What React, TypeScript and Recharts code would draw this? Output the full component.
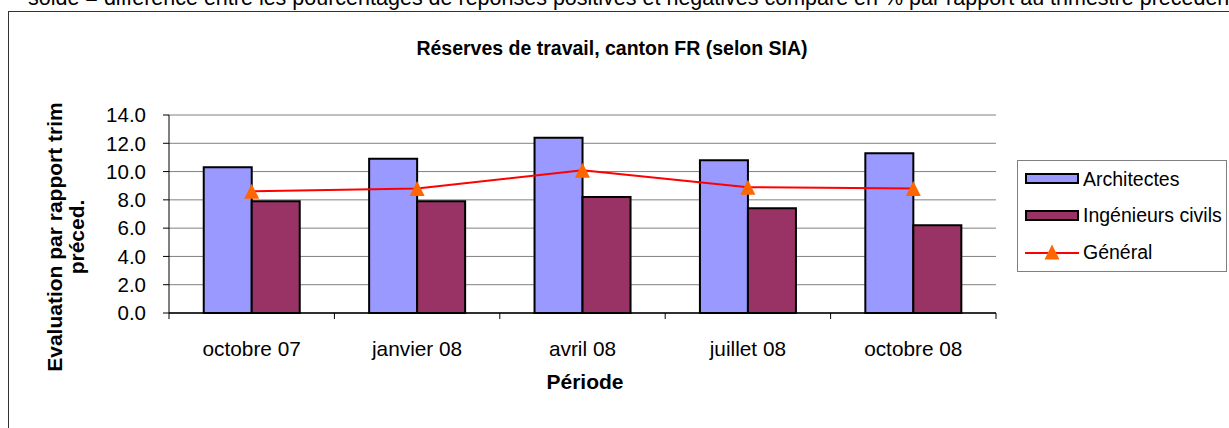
import React from 'react';
import { ComposedChart, Bar, Line, XAxis, YAxis, CartesianGrid } from 'recharts';

const categories = ['octobre 07', 'janvier 08', 'avril 08', 'juillet 08', 'octobre 08'];
const architectes = [10.3, 10.9, 12.4, 10.8, 11.3];
const ingenieurs = [7.9, 7.9, 8.2, 7.4, 6.2];
const general = [8.6, 8.8, 10.1, 8.9, 8.8];
const yTicks = [0, 2, 4, 6, 8, 10, 12, 14];

const seriesNames = { architectes: 'Architectes', ingenieurs: 'Ingénieurs civils', general: 'Général' };
const title = 'Réserves de travail, canton FR (selon SIA)';
const topNote = 'solde = différence entre les pourcentages de réponses positives et négatives comparé en % par rapport au trimestre précédent';
const yLabelLines = ['Evaluation par rapport trim', 'préced.'];
const xLabel = 'Période';

const data = categories.map((c, i) => ({
  periode: c,
  architectes: architectes[i],
  ingenieurs: ingenieurs[i],
  general: general[i],
}));

const FONT = '"Liberation Sans", Arial, Helvetica, sans-serif';
const COL_ARCH = '#9999FF';
const COL_ING = '#993366';
const COL_LINE = '#FF0000';
const COL_MARK = '#FF6600';

const W = 1229;
const H = 428;
const MARGIN = { top: 115, right: 233, bottom: 69, left: 109 };
const Y_AXIS_W = 60;
const X_AXIS_H = 46;
const PLOT_W = W - MARGIN.left - Y_AXIS_W - MARGIN.right;
const HALF_BAND = PLOT_W / categories.length / 2;

const Triangle = (props: any) => {
  const { cx, cy } = props;
  if (cx == null || cy == null) return null;
  return <path d={`M${cx},${cy - 7.5} L${cx + 7.5},${cy + 7.5} L${cx - 7.5},${cy + 7.5} Z`} fill={COL_MARK} />;
};

const XTick = (props: any) => {
  const { x, y, payload, index } = props;
  const last = index === categories.length - 1;
  return (
    <g>
      <line x1={x - HALF_BAND} y1={y} x2={x - HALF_BAND} y2={y + 6} stroke="#000" strokeWidth={1} />
      {last && <line x1={x + HALF_BAND} y1={y} x2={x + HALF_BAND} y2={y + 6} stroke="#000" strokeWidth={1} />}
      <text x={x} y={y + 43} textAnchor="middle" fontSize={20.8} fontFamily={FONT} fill="#000">{payload.value}</text>
    </g>
  );
};

export default function App() {
  return (
    <div style={{ position: 'fixed', left: 0, top: 0, width: W, height: H, background: '#fff', overflow: 'hidden', fontFamily: FONT }}>
      <div style={{ position: 'absolute', left: 8, top: 11, width: 1400, height: 600, borderLeft: '1px solid #333', borderTop: '1px solid #333' }} />
      <svg style={{ position: 'absolute', left: 0, top: 0 }} width={W} height={H}>
        <text x={28} y={5} fontSize={21.5} fontFamily={FONT} fill="#000">{topNote}</text>
        <text x={612} y={55} fontSize={19.5} fontWeight="bold" textAnchor="middle" fontFamily={FONT} fill="#000">{title}</text>
        <text transform="translate(62,237) rotate(-90)" fontSize={21} fontWeight="bold" textAnchor="middle" fontFamily={FONT} fill="#000">{yLabelLines[0]}</text>
        <text transform="translate(84,237) rotate(-90)" fontSize={21} fontWeight="bold" textAnchor="middle" fontFamily={FONT} fill="#000">{yLabelLines[1]}</text>
        <text x={585} y={389} fontSize={21} fontWeight="bold" textAnchor="middle" fontFamily={FONT} fill="#000">{xLabel}</text>
        <rect x={1017.5} y={160.5} width={209} height={111} fill="#fff" stroke="#808080" strokeWidth={1} />
        <rect x={1026} y={174} width={52} height={9} fill={COL_ARCH} stroke="#000" strokeWidth={2} />
        <text x={1083} y={186} fontSize={19.5} fontFamily={FONT} fill="#000">{seriesNames.architectes}</text>
        <rect x={1026} y={211} width={52} height={9} fill={COL_ING} stroke="#000" strokeWidth={2} />
        <text x={1083} y={222} fontSize={19.5} fontFamily={FONT} fill="#000">{seriesNames.ingenieurs}</text>
        <line x1={1025} y1={253} x2={1079} y2={253} stroke={COL_LINE} strokeWidth={2} />
        <Triangle cx={1052} cy={252} />
        <text x={1083} y={259} fontSize={19.5} fontFamily={FONT} fill="#000">{seriesNames.general}</text>
      </svg>
      <div style={{ position: 'absolute', left: 0, top: 0 }}>
        <ComposedChart
          width={W}
          height={H}
          data={data}
          margin={MARGIN}
          barCategoryGap="21%"
          barGap={0}
        >
          <CartesianGrid vertical={false} stroke="#808080" strokeWidth={1} />
          <XAxis
            dataKey="periode"
            height={X_AXIS_H}
            axisLine={{ stroke: '#000', strokeWidth: 1.5 }}
            tickLine={false}
            tickSize={0}
            tickMargin={0}
            interval={0}
            tick={<XTick />}
          />
          <YAxis
            width={Y_AXIS_W}
            domain={[0, 14]}
            ticks={yTicks}
            tickFormatter={(v: number) => v.toFixed(1)}
            tickSize={6}
            tickMargin={17}
            axisLine={{ stroke: '#000' }}
            tickLine={{ stroke: '#000' }}
            tick={{ fontSize: 20.5, fill: '#000', fontFamily: FONT }}
          />
          <YAxis
            yAxisId="frame"
            orientation="right"
            width={0}
            domain={[0, 14]}
            ticks={yTicks}
            tick={false}
            tickLine={false}
            axisLine={{ stroke: '#808080', strokeWidth: 1.5 }}
          />
          <Bar dataKey="architectes" name={seriesNames.architectes} fill={COL_ARCH} stroke="#000" strokeWidth={2} isAnimationActive={false} />
          <Bar dataKey="ingenieurs" name={seriesNames.ingenieurs} fill={COL_ING} stroke="#000" strokeWidth={2} isAnimationActive={false} />
          <Line dataKey="general" name={seriesNames.general} stroke={COL_LINE} strokeWidth={2} dot={<Triangle />} activeDot={false} isAnimationActive={false} />
        </ComposedChart>
      </div>
    </div>
  );
}
